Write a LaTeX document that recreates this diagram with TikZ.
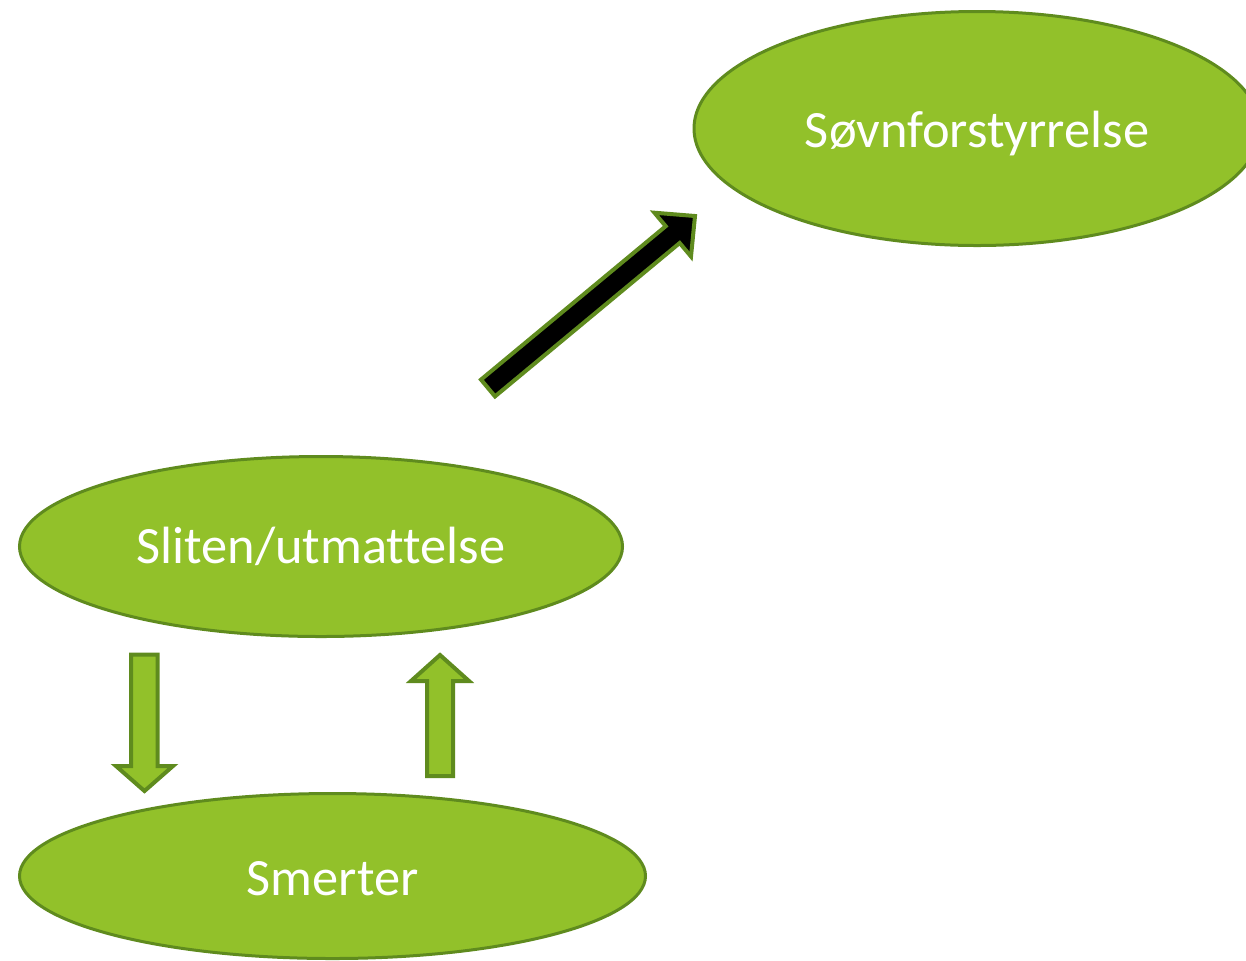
\documentclass[tikz,border=0pt]{standalone}
\usepackage{fontspec}
\setmainfont[Ligatures={NoCommon,NoContextual}]{Carlito}
\usetikzlibrary{shapes.geometric}
\definecolor{leaf}{HTML}{92C12A}
\definecolor{leafedge}{HTML}{5F8B1E}
% lower a label inside its bubble without changing the box size
\newcommand{\lowered}[2]{\raisebox{-#1}[\height][\depth]{#2}}
\begin{document}
\begin{tikzpicture}[x=0.5pt,y=-0.5pt,
  bubble/.style={ellipse, fill=leaf, draw=leafedge, line width=1.5pt,
    inner sep=0pt, text=white, font=\fontsize{26.2}{31}\selectfont},
  greenarrow/.style={fill=leaf, draw=leafedge, line width=2pt, line join=miter},
  darkarrow/.style={fill=black, draw=leafedge, line width=2pt, line join=miter}]
\useasboundingbox (0,0) rectangle (1246,960);
\clip (0,0) rectangle (1246,960);

% the three states
\node[bubble, minimum width=566pt*0.5, minimum height=234pt*0.5] (sleep) at (977,128.5) {\lowered{2.5pt}{Søvnforstyrrelse}};
\node[bubble, minimum width=603pt*0.5, minimum height=180pt*0.5] (tired) at (321,546.5) {Sliten/utmattelse};
\node[bubble, minimum width=626pt*0.5, minimum height=165pt*0.5] (pain) at (332.5,876) {\lowered{1.5pt}{Smerter}};

% block arrows between tiredness and pain
\draw[greenarrow] (131,654.5) -- (157.5,654.5) -- (157.5,766) -- (173,766)
  -- (144.5,791) -- (116,766) -- (131,766) -- cycle;
\draw[greenarrow] (427,776) -- (453,776) -- (453,681) -- (469,681)
  -- (440,655) -- (411,681) -- (427,681) -- cycle;

% black block arrow towards sleep disturbance
\draw[darkarrow] (495.0,396.4) -- (679.7,243.0) -- (691.0,256.5) -- (695,216)
  -- (654.4,212.7) -- (665.7,226.2) -- (481.0,379.6) -- cycle;
\end{tikzpicture}
\end{document}
